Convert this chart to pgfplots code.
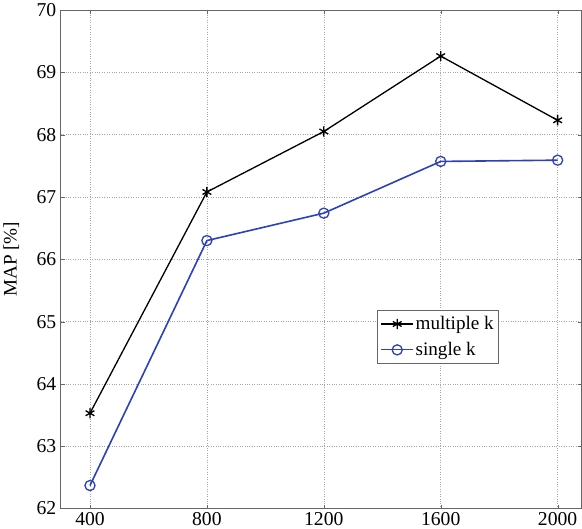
\documentclass[border=0pt]{standalone}
\usepackage{fontspec}
\setmainfont{Liberation Serif}
\usepackage{pgfplots}
\pgfplotsset{compat=1.18}
\definecolor{sblue}{RGB}{45,65,185}
\begin{document}
\begin{tikzpicture}
\begin{axis}[
  scale only axis,
  width=515bp, height=493bp,
  xmin=300, xmax=2082,
  ymin=62, ymax=70,
  xtick={400,800,1200,1600,2000},
  ytick={62,63,...,70},
  grid=major,
  major grid style={gray!70, dotted, line width=0.6pt},
  tick align=inside,
  tick pos=both,
  axis line style={gray!80!black, line width=0.8pt},
  major tick length=4bp,
  tick style={gray!80!black},
  /pgf/number format/assume math mode=true,
  /pgf/number format/1000 sep={},
  ticklabel style={font=\fontsize{19.5}{21}\selectfont},
  yticklabel style={xshift=-1bp},
  ylabel={MAP [\%]},
  ylabel style={font=\fontsize{19}{21}\selectfont, at={(axis description cs:-0.095,0.5)}, anchor=center},
  legend style={at={(0.608,0.398)}, anchor=north west, font=\fontsize{19}{21}\selectfont, draw=gray!80!black, line width=0.8pt, inner xsep=3pt, inner ysep=4pt, row sep=7bp},
  legend cell align=left,
  legend image code/.code={\draw[mark repeat=2,mark phase=2] plot coordinates {(0cm,0cm) (0.55cm,0cm) (1.1cm,0cm)};},
  legend image post style={line width=1.2pt},
]
\addplot[black, line width=1.3pt, mark=asterisk, mark size=5bp, mark options={line width=1.3pt}] coordinates {
(400,63.53) (800,67.08) (1200,68.05) (1600,69.26) (2000,68.23)
};
\addlegendentry{multiple k}
\addplot[sblue, line width=1.6pt, mark=o, mark size=5bp, mark options={line width=1.3pt}] coordinates {
(400,62.37) (800,66.30) (1200,66.74) (1600,67.57) (2000,67.59)
};
\addlegendentry{single k}
\end{axis}
\end{tikzpicture}
\end{document}
